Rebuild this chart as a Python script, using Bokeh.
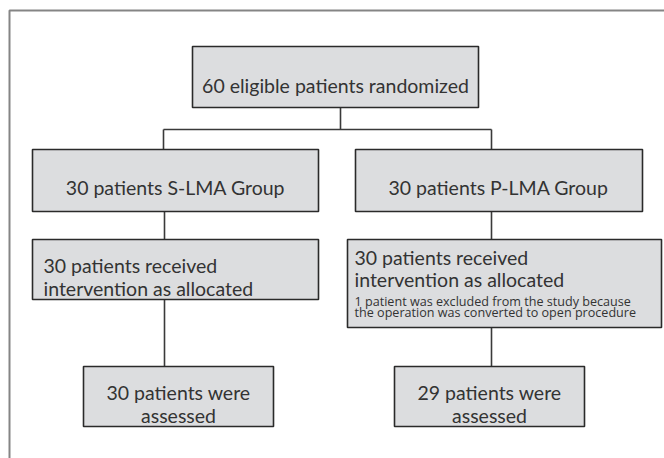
from bokeh.plotting import figure
from bokeh.models import Range1d, ColumnDataSource
from bokeh.core.properties import value
from bokeh.embed import file_html
from bokeh.resources import INLINE

# ---- content ----
node_ids = ["random", "s_group", "p_group", "s_recv", "p_recv", "s_assess", "p_assess"]
node_lines = [
    ["60 eligible patients randomized"],
    ["30 patients S-LMA Group"],
    ["30 patients P-LMA Group"],
    ["30 patients received", "intervention as allocated"],
    ["30 patients received", "intervention as allocated"],
    ["30 patients were", "assessed"],
    ["29 patients were", "assessed"],
]
note_lines = ["1 patient was excluded from the study because",
              "the operation was converted to open procedure"]

# ---- layout (pixel coordinates) ----
box_left   = [192, 32, 355, 32, 347, 83, 394]
box_right  = [478, 318, 642, 318, 661, 273, 584]
box_top    = [46, 149, 149, 239, 239, 366, 366]
box_bottom = [107, 211, 211, 299, 327, 426, 426]
text_align = ["center", "center", "center", "left", "left", "center", "center"]
text_x     = [335, 175, 498, 43, 354, 178, 489]
text_base  = [[85], [187], [187], [265, 288], [257, 279], [392, 415], [392, 415]]
note_x = 354
note_base = [301, 312]

edges_x = [[340, 340], [163, 491], [163, 163], [491, 491],
           [164, 164], [164, 164], [491, 491], [491, 491]]
edges_y = [[107, 129], [129, 129], [129, 149], [129, 149],
           [211, 239], [299, 366], [211, 239], [327, 366]]

W, H = 664, 458
p = figure(width=W, height=H, output_backend="svg", toolbar_location=None,
           x_range=Range1d(0, W), y_range=Range1d(H, 0),
           min_border=0, min_border_left=0, min_border_right=0,
           min_border_top=0, min_border_bottom=0)
p.axis.visible = False
p.grid.visible = False
p.outline_line_color = None
p.background_fill_color = "white"
p.border_fill_color = "white"

# outer frame (top and left edges)
p.line(x=[9, 9, 700], y=[500, 10, 10], line_color="#858585", line_width=2)

# connectors
p.multi_line(xs=edges_x, ys=edges_y, line_color="#3a3a3a", line_width=1.6)

# boxes
src = ColumnDataSource(dict(left=box_left, right=box_right, top=box_top, bottom=box_bottom))
p.quad(left="left", right="right", top="top", bottom="bottom", source=src,
       fill_color="#dcdddf", line_color="#2a2a2a", line_width=1.6)

FONT = "Lato"
tx, ty, tt, ta = [], [], [], []
for lines, x, bases, al in zip(node_lines, text_x, text_base, text_align):
    for ln, b in zip(lines, bases):
        tx.append(x); ty.append(b); tt.append(ln); ta.append(al)
for al in ["center", "left"]:
    idx = [i for i in range(len(tt)) if ta[i] == al]
    p.text(x=[tx[i] for i in idx], y=[ty[i] for i in idx], text=[tt[i] for i in idx],
           text_font=value(FONT), text_font_size="19.5px", text_color="#333333",
           text_align=al, text_baseline="alphabetic")

p.text(x=[note_x] * len(note_lines), y=note_base, text=note_lines,
       text_font=value("Open Sans"), text_font_size="12.6px", text_color="#333333",
       text_align="left", text_baseline="alphabetic")

open("out.html", "w").write(file_html(p, INLINE))
